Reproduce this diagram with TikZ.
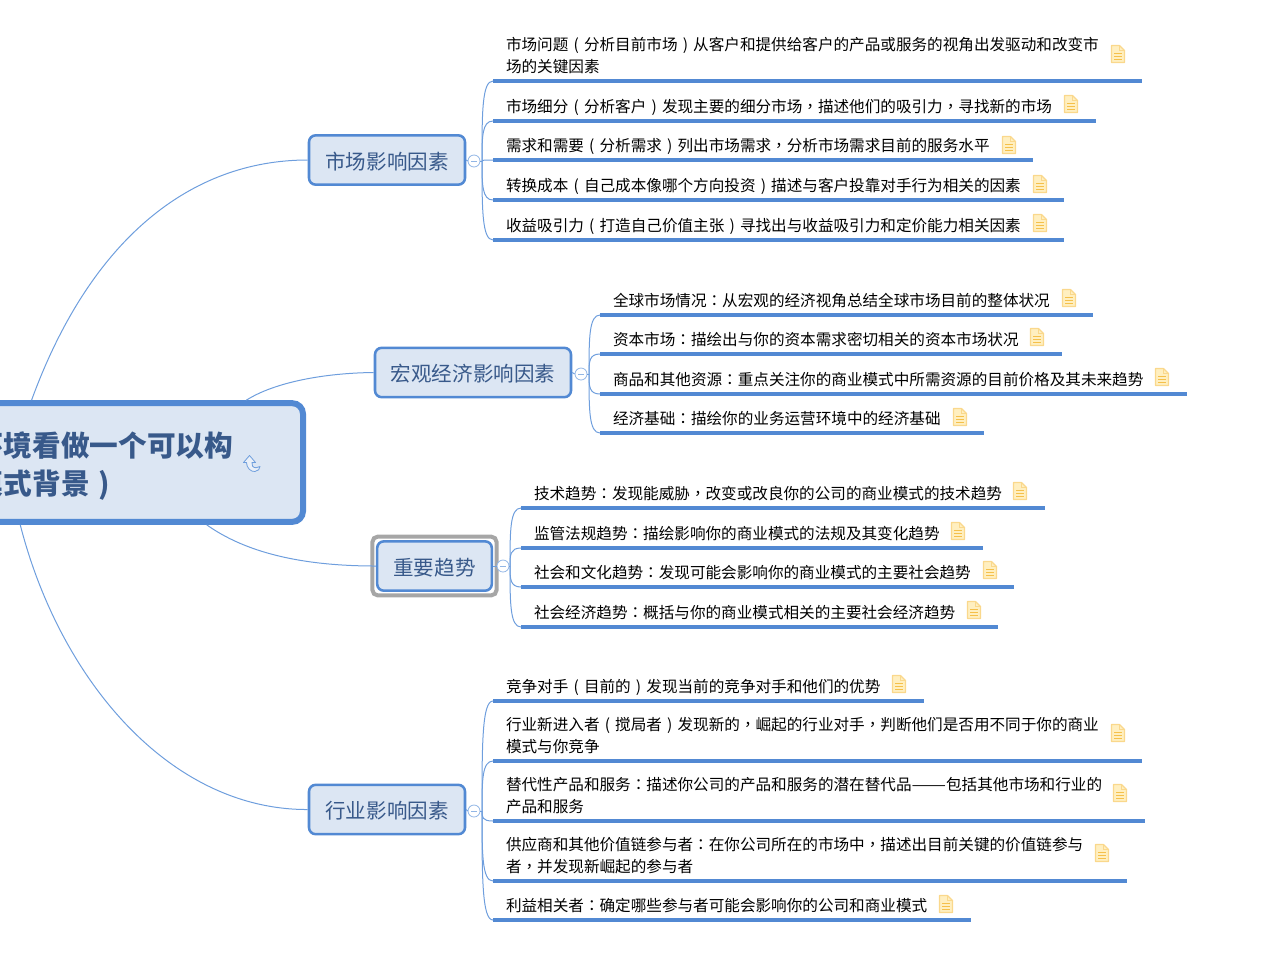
\documentclass[tikz,border=0pt]{standalone}
\usepackage{fontspec}
\setmainfont{Noto Sans CJK SC}
\newfontfamily\puncfont{Noto Sans CJK TC}
\usepackage{xcolor}
\usepackage{graphicx}
\usetikzlibrary{fit,calc}
\definecolor{mapblue}{HTML}{5289D3}
\definecolor{mapfill}{HTML}{DCE6F3}
\definecolor{mapink}{HTML}{38598A}
\definecolor{linkblue}{HTML}{6E9EDD}
\definecolor{notefill}{HTML}{FFEFC0}
\definecolor{noteedge}{HTML}{FAD88C}
\definecolor{notebar}{HTML}{F5C04A}
% centred punctuation
\catcode`，=13 \def，{{\puncfont\char"FF0C\relax}}
\catcode`：=13 \def：{{\puncfont\char"FF1A\relax}}
\catcode`（=13 \def（{\makebox[1em]{(}}
\catcode`）=13 \def）{\makebox[1em]{)}}
\tikzset{
  centernode/.style={draw=mapblue,fill=mapfill,line width=4.5pt,rounded corners=8pt,
    text=mapink,font=\fontsize{21.5}{28.5}\selectfont\bfseries,align=left,
    text width=223.5pt,inner xsep=22.5pt,minimum height=89pt,text height=24pt},
  topicnode/.style={draw=mapblue,fill=mapfill,line width=1.9pt,rounded corners=5pt,
    text=mapink,font=\fontsize{15.4}{18}\selectfont,minimum height=37pt,
    text height=15.5pt,text depth=1.5pt},
  selframe/.style={draw=black!35,line width=3pt,rounded corners=4pt,inner sep=2.6pt},
  foldnode/.style={circle,draw=linkblue!75,fill=white,line width=.6pt,inner sep=0pt,minimum size=9pt},
  leafnode/.style={anchor=south west,align=left,font=\fontsize{11.7}{16}\selectfont,text=black,
    inner xsep=9.75pt,inner ysep=6.6pt,text depth=0pt,outer sep=0pt},
  twolines/.style={text depth=16pt},
  leafline/.style={draw=mapblue,line width=3pt},
  branch/.style={draw=linkblue,line width=.75pt},
  noteicon/.pic={
    \draw[draw=noteedge,fill=notefill,line width=.9pt,line join=round]
      (-6.5,-8.5) -- (1.5,-8.5) -- (6.5,-3.5) -- (6.5,8.5) -- (-6.5,8.5) -- cycle;
    \draw[draw=noteedge,line width=.7pt] (1.5,-8.5) -- (1.5,-3.5) -- (6.5,-3.5);
    \foreach \yy in {-.5,2.5,5.5}
      \draw[draw=notebar,line width=1pt] (-4,\yy) -- (4,\yy);
  }
}
\newcommand{\minusbar}{\textcolor{linkblue!75}{\rule[.05pt]{4.5pt}{.6pt}}}
\begin{document}
\begin{tikzpicture}[x=.75pt,y=-.75pt]
    \useasboundingbox (0,0) rectangle (1273,972);

    % center and topics
    \node[centernode] (center) at (124,462.5) {环境看做一个可以构\\模式背景）};
    \node[topicnode,minimum width=117pt] (market) at (387,160) {市场影响因素};
    \node[topicnode,minimum width=147pt] (macro) at (473,372.5) {宏观经济影响因素};
    \node[topicnode,minimum width=86pt] (trend) at (434.5,566) {重要趋势};
    \node[topicnode,minimum width=117pt] (industry) at (387,809.5) {行业影响因素};
    \node[selframe,fit=(trend)] (trendframe) {};

    \draw[branch] (center.146.4) .. controls (90,240) and (190,160) .. (market.west);
    \draw[branch] (center.27.9) .. controls (275,382) and (325,373) .. (macro.west);
    \draw[branch] (center.-37.3) .. controls (245,552) and (300,566) .. (trend.west);
    \draw[branch] (center.211.2) .. controls (60,680) and (170,810) .. (industry.west);

    % fold marks
    \node[foldnode] (foldmarket) at (474,161) {\minusbar};
    \node[foldnode] (foldmacro) at (581,374) {\minusbar};
    \node[foldnode] (foldtrend) at (503,566) {\minusbar};
    \node[foldnode] (foldindustry) at (474,811) {\minusbar};

    % market leaves
    \node[leafnode,twolines,text width=467.25pt] (m1) at (493,81) {市场问题（分析目前市场）从客户和提供给客户的产品或服务的视角出发驱动和改变市\\场的关键因素};
    \node[leafnode,text width=432.75pt] (m2) at (493,121) {市场细分（分析客户）发现主要的细分市场，描述他们的吸引力，寻找新的市场};
    \node[leafnode,text width=385.5pt] (m3) at (493,160) {需求和需要（分析需求）列出市场需求，分析市场需求目前的服务水平};
    \node[leafnode,text width=408.75pt] (m4) at (493,200) {转换成本（自己成本像哪个方向投资）描述与客户投靠对手行为相关的因素};
    \node[leafnode,text width=408.75pt] (m5) at (493,240) {收益吸引力（打造自己价值主张）寻找出与收益吸引力和定价能力相关因素};

    % macro leaves
    \node[leafnode,text width=350.25pt] (g1) at (600,315) {全球市场情况：从宏观的经济视角总结全球市场目前的整体状况};
    \node[leafnode,text width=327pt] (g2) at (600,354) {资本市场：描绘出与你的资本需求密切相关的资本市场状况};
    \node[leafnode,text width=420.75pt] (g3) at (600,394) {商品和其他资源：重点关注你的商业模式中所需资源的目前价格及其未来趋势};
    \node[leafnode,text width=268.5pt] (g4) at (600,433) {经济基础：描绘你的业务运营环境中的经济基础};

    % trend leaves
    \node[leafnode,text width=373.5pt] (t1) at (521,508) {技术趋势：发现能威胁，改变或改良你的公司的商业模式的技术趋势};
    \node[leafnode,text width=327pt] (t2) at (521,548) {监管法规趋势：描绘影响你的商业模式的法规及其变化趋势};
    \node[leafnode,text width=350.25pt] (t3) at (521,587) {社会和文化趋势：发现可能会影响你的商业模式的主要社会趋势};
    \node[leafnode,text width=338.25pt] (t4) at (521,627) {社会经济趋势：概括与你的商业模式相关的主要社会经济趋势};

    % industry leaves
    \node[leafnode,text width=303.75pt] (i1) at (493,701) {竞争对手（目前的）发现当前的竞争对手和他们的优势};
    \node[leafnode,twolines,text width=467.25pt] (i2) at (493,761) {行业新进入者（搅局者）发现新的，崛起的行业对手，判断他们是否用不同于你的商业\\模式与你竞争};
    \node[leafnode,twolines,text width=469.5pt] (i3) at (493,821) {替代性产品和服务：描述你公司的产品和服务的潜在替代品\scalebox{1.32}[1]{——}包括其他市场和行业的\\产品和服务};
    \node[leafnode,twolines,text width=456pt] (i4) at (493,881) {供应商和其他价值链参与者：在你公司所在的市场中，描述出目前关键的价值链参与\\者，并发现新崛起的参与者};
    \node[leafnode,text width=339pt] (i5) at (493,920) {利益相关者：确定哪些参与者可能会影响你的公司和商业模式};

    \foreach \n in {m1,m2,m3,m4,m5,g1,g2,g3,g4,t1,t2,t3,t4,i1,i2,i3,i4,i5}
        \draw[leafline] (\n.south west) -- (\n.south east);

    % branches
    \draw[branch] (market.east) -- (foldmarket.west);
    \draw[branch] (macro.east) -- (foldmacro.west);
    \draw[branch] (trend.east) -- (foldtrend.west);
    \draw[branch] (industry.east) -- (foldindustry.west);
    \coordinate (hubmarket) at (482,161);
    \coordinate (hubmacro) at (589,374);
    \coordinate (hubtrend) at (510,566);
    \coordinate (hubindustry) at (482,811);
    \draw[branch] (foldmarket.east) -- (hubmarket);
    \draw[branch] (foldmacro.east) -- (hubmacro);
    \draw[branch] (foldtrend.east) -- (hubtrend);
    \draw[branch] (foldindustry.east) -- (hubindustry);
    \foreach \n in {m1,m2,m3,m4,m5}
        \draw[branch] (hubmarket) .. controls ($(hubmarket)!.6!(hubmarket |- \n.south west)$) and (hubmarket |- \n.south west) .. (\n.south west);
    \foreach \n in {g1,g2,g3,g4}
        \draw[branch] (hubmacro) .. controls ($(hubmacro)!.6!(hubmacro |- \n.south west)$) and (hubmacro |- \n.south west) .. (\n.south west);
    \foreach \n in {t1,t2,t3,t4}
        \draw[branch] (hubtrend) .. controls ($(hubtrend)!.6!(hubtrend |- \n.south west)$) and (hubtrend |- \n.south west) .. (\n.south west);
    \foreach \n in {i1,i2,i3,i4,i5}
        \draw[branch] (hubindustry) .. controls ($(hubindustry)!.6!(hubindustry |- \n.south west)$) and (hubindustry |- \n.south west) .. (\n.south west);

    % note icons
    \foreach \x/\y in {1118/54,1071/104,1009/145,1040/184,1040/223,
                       1069/298,1037/337,1162/377,960/417,
                       1020/491,958/531,990/570,974/610,
                       899/684,1118/733,1120/793,1102/853,946/904}
        \pic at (\x,\y) {noteicon};

    % return arrow
    \draw[draw=linkblue,fill=mapfill!60!white,line width=.6pt,line join=round]
        (249.5,455.5) -- (243.5,462.5) -- (246.5,462.5)
        .. controls (246.5,468) and (251,472) .. (255,471.5)
        .. controls (258,471) and (260,469) .. (260,466.5)
        .. controls (258,468) and (254,468.5) .. (252.5,466)
        -- (252,462.5) -- (255.5,462.5) -- cycle;
\end{tikzpicture}
\end{document}
